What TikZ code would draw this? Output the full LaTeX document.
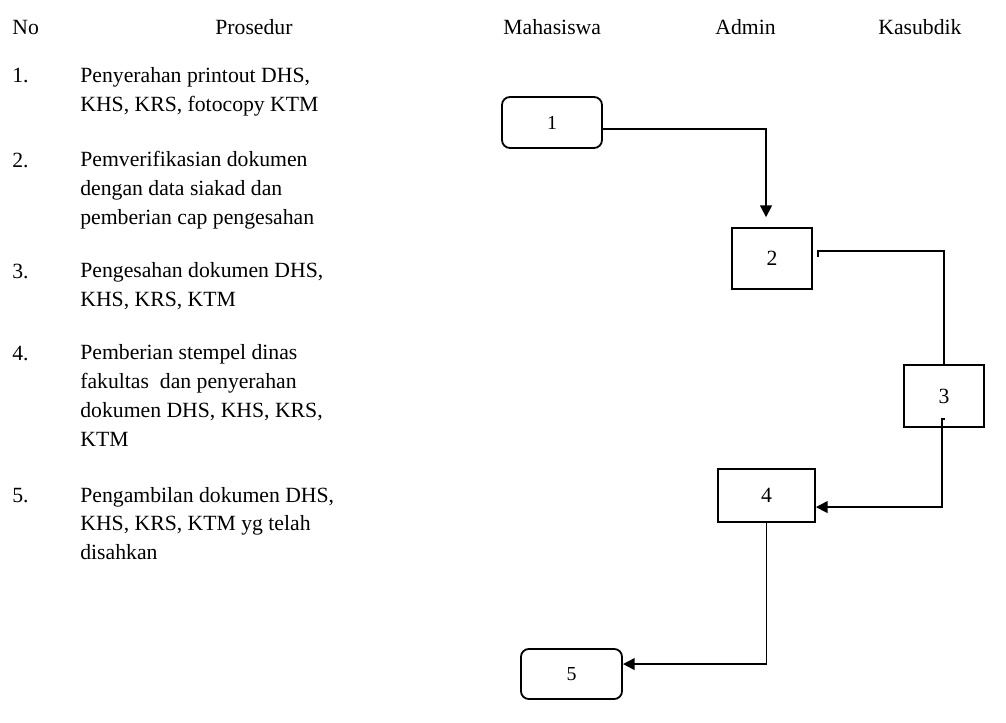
\documentclass[tikz,border=0pt]{standalone}
\usepackage{fontspec}
\setmainfont{Liberation Serif}
\usetikzlibrary{arrows.meta}

\begin{document}
\begin{tikzpicture}[x=0.553pt,y=-0.553pt,
    txt/.style={anchor=base west,align=left,inner sep=0pt,
        font=\fontsize{12pt}{15.9pt}\selectfont},
    proc/.style={draw,line width=1pt,inner sep=0pt,
        font=\fontsize{12pt}{14pt}\selectfont},
    term/.style={proc,rounded corners=4.4pt,font=\fontsize{11pt}{13pt}\selectfont},
    flow/.style={line width=1pt},
    >={Triangle[length=6.5pt,width=6.5pt]}]
\useasboundingbox (0,0) rectangle (1006,722);
% column headings
\path
    (12,34) node [txt] (hno) {No}
    (215,34) node [txt] (hpros) {Prosedur}
    (503,34) node [txt] (hmhs) {Mahasiswa}
    (715,34) node [txt] (hadm) {Admin}
    (878,34) node [txt] (hkas) {Kasubdik};
% procedure list (text nodes sit on the baseline of their last line)
\path
    (12,82) node [txt] (n1) {1.}
    (80,111) node [txt] (t1) {Penyerahan printout DHS,\\KHS, KRS, fotocopy KTM}
    (12,167) node [txt] (n2) {2.}
    (80,224.5) node [txt] (t2) {Pemverifikasian dokumen\\dengan data siakad dan\\pemberian cap pengesahan}
    (12,278) node [txt] (n3) {3.}
    (80,306.7) node [txt] (t3) {Pengesahan dokumen DHS,\\KHS, KRS, KTM}
    (12,360) node [txt] (n4) {4.}
    (80,446.2) node [txt] (t4) {Pemberian stempel dinas\\fakultas\ \ dan penyerahan\\dokumen DHS, KHS, KRS,\\KTM}
    (12,502) node [txt] (n5) {5.}
    (80,559.5) node [txt] (t5) {Pengambilan dokumen DHS,\\KHS, KRS, KTM yg telah\\disahkan};
% flow boxes
\path
    (552,122.5) node [term,minimum width=55.3pt,minimum height=28.2pt] (b1) {1}
    (772,258.5) node [proc,minimum width=44.2pt,minimum height=33.7pt] (b2) {2}
    (944,396) node [proc,minimum width=44.2pt,minimum height=34.3pt] (b3) {3}
    (766.5,495.5) node [proc,minimum width=53.6pt,minimum height=29.3pt] (b4) {4}
    (571.5,674) node [term,minimum width=55.9pt,minimum height=27.7pt] (b5) {5};
\draw [flow,->,shorten >=5.5pt] ([yshift=-3.6pt]b1.east) -| ([xshift=-3.3pt]b2.north);
\draw [flow] ([xshift=2.8pt,yshift=1pt]b2.east) -- ++(0,-6) -| (b3.north);
\draw [flow,->] ([xshift=0.6pt,yshift=-12.8pt]b3.center) -- ++(-3,0) |- ([yshift=-6.4pt]b4.east);
\draw [flow,->] (b4.south) |- ([yshift=5.5pt]b5.east);
\end{tikzpicture}
\end{document}
